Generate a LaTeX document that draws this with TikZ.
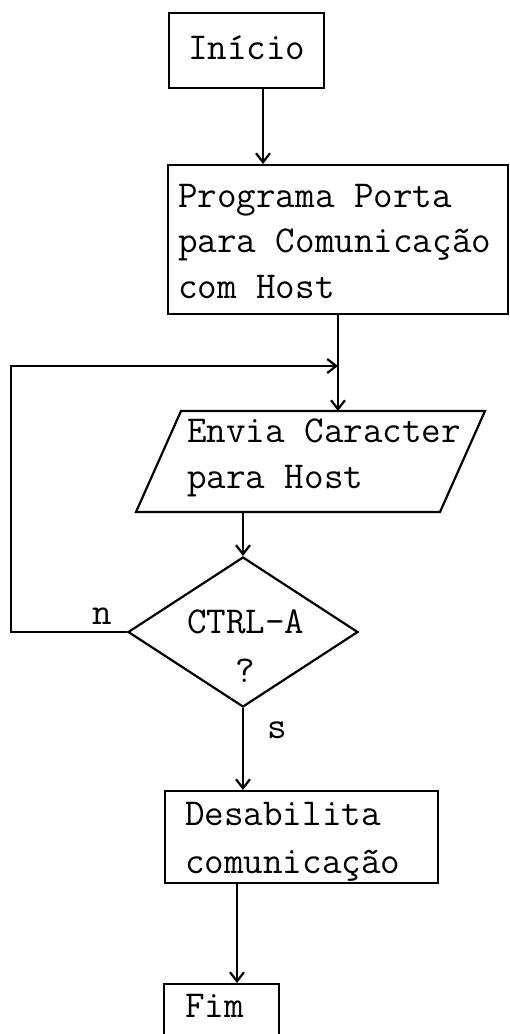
\documentclass[tikz,border=0pt]{standalone}
\usepackage{fontspec}
\usetikzlibrary{arrows.meta,shapes.geometric}
\begin{document}
\begin{tikzpicture}[x=1pt,y=-1pt,line width=2.2pt,
  box/.style={draw,rectangle,inner sep=0pt,anchor=north west},
  txt/.style={anchor=base west,inner sep=0pt,font=\fontsize{38}{45}\selectfont\ttfamily},
  flow/.style={-{Straight Barb[length=9pt,width=14pt]}},
]
\clip (0,0) rectangle (509,1034);

% process boxes
\node[box,minimum width=155pt,minimum height=75pt] (inicio) at (168,12) {};
\node[box,minimum width=340pt,minimum height=149pt] (prog) at (167,164) {};
\node[box,minimum width=273pt,minimum height=92pt] (desab) at (164,790) {};
\node[box,minimum width=115pt,minimum height=80pt] (fim) at (163,983) {};

% input/output parallelogram
\coordinate (pTL) at (181,411);
\coordinate (pTR) at (485,411);
\coordinate (pBR) at (440,512);
\coordinate (pBL) at (136,512);
\draw (pTL) -- (pTR) -- (pBR) -- (pBL) -- cycle;
\coordinate (ptop) at (338,411);
\coordinate (pbot) at (243,512);

% decision
\node[draw,diamond,inner sep=0pt,minimum width=230pt,minimum height=150pt] (dec) at (243,632) {};

% texts
\node[txt] (t1) at (187,59) {Início};
\node[txt] (t2) at (177,207) {Programa Porta};
\node[txt] (t3) at (177,252) {para Comunicação};
\node[txt] (t4) at (177,298) {com Host};
\node[txt] (t5) at (186,442) {Envia Caracter};
\node[txt] (t6) at (186,488) {para Host};
\node[txt] (t7) at (186,633) {CTRL-A};
\node[txt] (t8) at (234,682) {?};
\node[txt] (tn) at (91,624) {n};
\node[txt] (ts) at (266,738) {s};
\node[txt] (t9) at (184,825) {Desabilita};
\node[txt] (t10) at (184,873) {comunicação};
\node[txt] (t11) at (184,1017) {Fim};

% connectors
\coordinate (xa) at (263,0);
\coordinate (join) at (338,366);
\coordinate (corner) at (11,366);
\coordinate (xf) at (237,0);
\draw[flow] (inicio.south -| xa) -- (prog.north -| xa);
\draw[flow] (prog.south -| join) -- (ptop);
\draw[flow] (dec.west) -| (corner) -- (join);
\draw[flow] (pbot) -- (dec.north);
\draw[flow] (dec.south) -- (desab.north -| dec.south);
\draw[flow] (desab.south -| xf) -- (fim.north -| xf);
\end{tikzpicture}
\end{document}
